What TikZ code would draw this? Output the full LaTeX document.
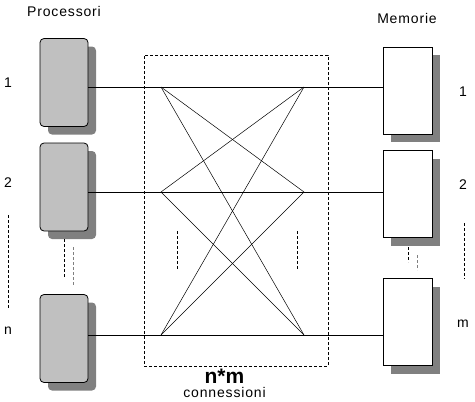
\documentclass[tikz,border=0pt]{standalone}
\usepackage{fontspec}
\setmainfont{Liberation Sans}[LetterSpace=6]
\usetikzlibrary{positioning,calc,shadows}
\definecolor{boxgray}{RGB}{192,192,192}
\definecolor{shadowgray}{RGB}{128,128,128}
\tikzset{
  boxshadow/.style={drop shadow={shadow xshift=8pt,shadow yshift=-8pt,fill=shadowgray,opacity=1}},
  proc/.style={rectangle,draw,rounded corners=4pt,fill=boxgray,minimum width=48pt,minimum height=88pt,line width=0.8pt,boxshadow},
  mem/.style={rectangle,draw,fill=white,minimum width=49pt,minimum height=87pt,line width=0.8pt,boxshadow},
  wire/.style={line width=0.7pt},
  dots/.style={dash pattern=on 3pt off 2pt,line width=0.7pt},
  lbl/.style={font=\fontsize{14}{16}\selectfont,anchor=base,inner sep=0pt}
}
\begin{document}
\begin{tikzpicture}[x=1pt,y=-1pt]
\useasboundingbox (0,0) rectangle (475,402);
% processori
\node[proc] (proc1) at (64,82.5) {};
\node[proc] (proc2) at (64,187) {};
\node[proc] (procn) at (64,338.5) {};
% memorie
\node[mem] (mem1) at (407.5,90.5) {};
\node[mem] (mem2) at (407.5,194) {};
\node[mem] (memm) at (407.5,322) {};
% rete di connessione
\node[draw,dots,line width=0.6pt,minimum width=184pt,minimum height=311pt] (xbar) at (236,210.5) {};
\foreach \i/\y in {1/87,2/192,3/335} {
  \coordinate (L\i) at (161,\y);
  \coordinate (R\i) at (304,\y);
}
\draw[wire] (proc1.east |- L1) -- (mem1.west |- L1);
\draw[wire] (proc2.east |- L2) -- (mem2.west |- L2);
\draw[wire] (procn.east |- L3) -- (memm.west |- L3);
\foreach \i in {1,2,3} {
  \foreach \j in {1,2,3} {
    \ifnum\i=\j\else \draw[line width=0.5pt] (L\i) -- (R\j); \fi
  }
}
% puntini
\coordinate (pa) at (64,239);  \coordinate (pb) at (64,278);
\coordinate (pc) at (73,247);  \coordinate (pd) at (73,286);
\coordinate (ma) at (408,247); \coordinate (mb) at (408,262);
\coordinate (mc) at (417,255); \coordinate (md) at (417,270);
\coordinate (xa) at (177,231); \coordinate (xb) at (177,270);
\coordinate (xc) at (297,231); \coordinate (xd) at (297,270);
\coordinate (na) at (8,215);   \coordinate (nb) at (8,308);
\coordinate (mma) at (464,223); \coordinate (mmb) at (464,279);
\draw[dots] (pa) -- (pb);
\draw[dots,shadowgray] (pc) -- (pd);
\draw[dots] (ma) -- (mb);
\draw[dots,shadowgray] (mc) -- (md);
\draw[dots] (xa) -- (xb);
\draw[dots] (xc) -- (xd);
\draw[dots] (na) -- (nb);
\draw[dots] (mma) -- (mmb);
% etichette
\node[lbl] (tproc) at (64,16) {Processori};
\node[lbl] (tmem) at (407,23) {Memorie};
\node[lbl] (p1) at (8,87) {1};
\node[lbl] (p2) at (8,187) {2};
\node[lbl] (pn) at (8,334) {n};
\node[lbl] (m1) at (463,96) {1};
\node[lbl] (m2) at (463,189) {2};
\node[lbl] (mm) at (463,327) {m};
\node[lbl,font=\fontsize{21}{24}\selectfont\bfseries\addfontfeature{LetterSpace=0}] (tnm) at (224.5,383) {n*m};
\node[lbl] (tconn) at (224.5,397) {connessioni};
\end{tikzpicture}
\end{document}
